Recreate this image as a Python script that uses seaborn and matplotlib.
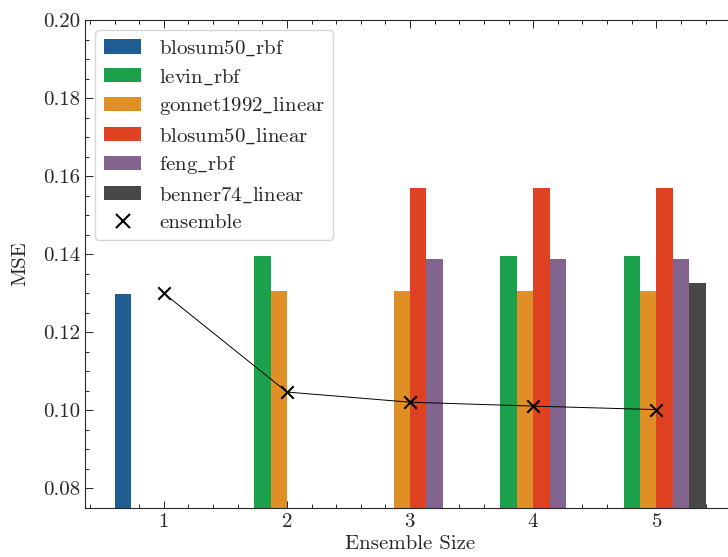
import matplotlib
matplotlib.use("Agg")
import matplotlib.pyplot as plt
from matplotlib.lines import Line2D
from matplotlib.ticker import MultipleLocator
import seaborn as sns
import pandas as pd

# Ensemble sizes and the member models present at each size
sizes = [1, 2, 3, 4, 5]
models = ["blosum50_rbf", "levin_rbf", "gonnet1992_linear",
          "blosum50_linear", "feng_rbf", "benner74_linear"]
colors = ["#1f5d92", "#1ba14c", "#e08f24", "#df4222", "#83648f", "#484848"]

# Individual model MSE per ensemble size (None = not a member)
blosum50_rbf = [0.1298, None, None, None, None]
levin_rbf = [None, 0.1395, None, 0.1395, 0.1395]
gonnet1992_linear = [None, 0.1307, 0.1307, 0.1307, 0.1307]
blosum50_linear = [None, None, 0.1570, 0.1570, 0.1570]
feng_rbf = [None, None, 0.1389, 0.1389, 0.1389]
benner74_linear = [None, None, None, None, 0.1327]

# Ensemble MSE
ensemble = [0.1300, 0.1047, 0.1021, 0.1011, 0.1002]

series = [blosum50_rbf, levin_rbf, gonnet1992_linear,
          blosum50_linear, feng_rbf, benner74_linear]
rows = []
for name, vals in zip(models, series):
    for s, v in zip(sizes, vals):
        if v is not None:
            rows.append({"size": s, "model": name, "mse": v})
df = pd.DataFrame(rows)

sns.set_style("ticks")
plt.rcParams.update({
    "font.family": "serif",
    "font.serif": ["cmr10", "DejaVu Serif"],
    "mathtext.fontset": "cm",
    "axes.formatter.use_mathtext": True,
    "font.size": 15,
    "xtick.direction": "in",
    "ytick.direction": "in",
    "xtick.top": True,
    "ytick.right": True,
    "xtick.minor.visible": True,
    "ytick.minor.visible": True,
    "xtick.major.size": 5.4,
    "ytick.major.size": 5.4,
    "xtick.minor.size": 2.9,
    "ytick.minor.size": 2.9,
    "xtick.major.width": 0.7,
    "ytick.major.width": 0.7,
    "xtick.minor.width": 0.7,
    "ytick.minor.width": 0.7,
    "axes.linewidth": 0.8,
})

fig = plt.figure(figsize=(7.28, 5.57), dpi=100)
ax = fig.add_axes([0.1168, 0.088, 0.893, 0.876])

sns.barplot(data=df, x="size", y="mse", hue="model", hue_order=models,
            palette=colors, saturation=1, native_scale=True, width=0.8,
            linewidth=0, ax=ax, legend=True)

ens_df = pd.DataFrame({"size": sizes, "mse": ensemble})
sns.lineplot(data=ens_df, x="size", y="mse", color="black", lw=0.7, ax=ax)
sns.scatterplot(data=ens_df, x="size", y="mse", color="black", marker="x",
                s=80, linewidth=1.5, ax=ax, zorder=5)

ax.set_xlim(0.36, 5.64)
ax.set_ylim(0.075, 0.20)
ax.set_xticks(sizes)
ax.set_yticks([0.08, 0.10, 0.12, 0.14, 0.16, 0.18, 0.20])
ax.set_yticklabels([f"{t:.2f}" for t in ax.get_yticks()])
ax.xaxis.set_minor_locator(MultipleLocator(0.2))
ax.yaxis.set_minor_locator(MultipleLocator(0.005))
ax.set_xlabel("Ensemble Size", labelpad=3)
ax.set_ylabel("MSE", labelpad=10)


def tex_label(name):
    return r"$\mathrm{" + name.replace("_", r"\_") + "}$"


handles, labels = ax.get_legend_handles_labels()
bar_handles = handles[:len(models)]
ens_handle = Line2D([], [], color="black", marker="x", linestyle="none",
                    markersize=9.5, markeredgewidth=1.5)
ax.legend(bar_handles + [ens_handle],
          [tex_label(m) for m in models] + ["ensemble"],
          loc="upper left", frameon=True, fancybox=True,
          handlelength=1.8, handletextpad=0.85, labelspacing=0.42,
          borderaxespad=0.5, fontsize=15)

fig.savefig("out.png", dpi=100)
